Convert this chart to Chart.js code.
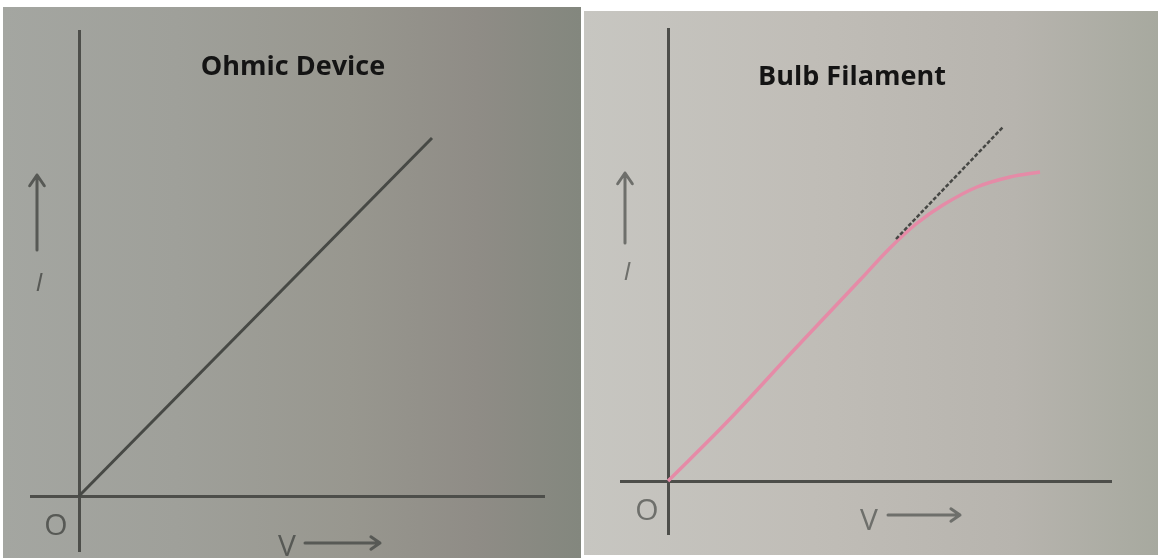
<!DOCTYPE html>
<html>
<head>
<meta charset="utf-8">
<title>I-V characteristics</title>
<script src="https://cdn.jsdelivr.net/npm/chart.js@4.4.1/dist/chart.umd.min.js"></script>
<style>
  html, body { margin: 0; padding: 0; background: #fff; }
  body { width: 1158px; height: 558px; position: relative; overflow: hidden; }
  .panel { position: absolute; }
  .panel canvas { display: block; }
  #ohmicPanel {
    left: 3px; top: 7px; width: 578px; height: 551px;
    background: linear-gradient(90deg, #a4a6a1 0%, #9fa09a 30%, #98978f 60%, #8f8c86 82%, #83877e 100%);
  }
  #bulbPanel {
    left: 584px; top: 11px; width: 574px; height: 544px;
    background: linear-gradient(90deg, #c7c6c1 0%, #c0bdb7 40%, #b7b4ae 75%, #a7a99f 100%);
  }
</style>
</head>
<body>
<div class="panel" id="ohmicPanel"><canvas id="ohmicChart" width="578" height="551"></canvas></div>
<div class="panel" id="bulbPanel"><canvas id="bulbChart" width="574" height="544"></canvas></div>

<script>
// Ohmic conductor: straight line through the origin
const ohmicV = [0, 3.53];
const ohmicI = [0, 3.58];

// Filament lamp: curve bends over at higher voltage
const bulbV = [0, 0.59, 1.25, 1.92, 2.22, 2.48, 2.75, 3.09, 3.42, 3.72];
const bulbI = [0, 0.59, 1.30, 2.01, 2.33, 2.57, 2.76, 2.94, 3.04, 3.09];

// dashed continuation of the straight (ohmic) part
const tangentV = [2.28, 3.35];
const tangentI = [2.42, 3.54];

const toPoints = (xs, ys) => xs.map((v, i) => ({ x: v, y: ys[i] }));

// only the zero line of each axis is drawn, crossing at the origin
const zeroOnly = axis => { axis.ticks = [{ value: 0 }]; };

function axisOptions(min, max) {
    return {
        type: 'linear',
        min: min,
        max: max,
        afterBuildTicks: zeroOnly,
        ticks: { display: false },
        border: { display: false },
        grid: { color: '#4d4e4a', lineWidth: 3, drawTicks: false }
    };
}

function drawArrow(ctx, x1, y1, x2, y2, head) {
    const a = Math.atan2(y2 - y1, x2 - x1);
    ctx.beginPath();
    ctx.moveTo(x1, y1);
    ctx.lineTo(x2, y2);
    ctx.moveTo(x2 - head * Math.cos(a - 0.6), y2 - head * Math.sin(a - 0.6));
    ctx.lineTo(x2, y2);
    ctx.lineTo(x2 - head * Math.cos(a + 0.6), y2 - head * Math.sin(a + 0.6));
    ctx.stroke();
}

// title, O, V and I markers, placed relative to the origin pixel
const sketchLabels = {
    id: 'sketchLabels',
    afterDraw(chart, args, o) {
        const { ctx, scales: { x, y } } = chart;
        const ox = x.getPixelForValue(0);
        const oy = y.getPixelForValue(0);
        ctx.save();

        ctx.fillStyle = '#141414';
        ctx.font = 'bold 27px "Open Sans"';
        ctx.textAlign = 'center';
        ctx.textBaseline = 'alphabetic';
        ctx.fillText(o.title, ox + o.titleAt[0], oy + o.titleAt[1]);

        ctx.fillStyle = o.ink;
        ctx.font = '30px "Open Sans"';
        ctx.textBaseline = 'middle';
        ctx.fillText('O', ox + o.originAt[0], oy + o.originAt[1]);

        ctx.textAlign = 'left';
        ctx.textBaseline = 'alphabetic';
        ctx.fillText('V', ox + o.vAt[0], oy + o.vAt[1]);

        ctx.font = 'italic 26px "Open Sans"';
        ctx.textAlign = 'center';
        ctx.textBaseline = 'middle';
        ctx.fillText('I', ox + o.iAt[0], oy + o.iAt[1]);

        ctx.strokeStyle = o.ink;
        ctx.lineWidth = 3;
        ctx.lineCap = 'round';
        ctx.lineJoin = 'round';
        const va = o.vArrow, ia = o.iArrow;
        drawArrow(ctx, ox + va[0], oy + va[2], ox + va[1], oy + va[2], 11);
        drawArrow(ctx, ox + ia[0], oy + ia[1], ox + ia[0], oy + ia[2], 13);

        ctx.restore();
    }
};

function baseOptions(padding, xRange, yRange, labels) {
    return {
        responsive: false,
        animation: false,
        layout: { padding: padding },
        elements: { point: { radius: 0 } },
        plugins: {
            legend: { display: false },
            tooltip: { enabled: false },
            sketchLabels: labels
        },
        scales: {
            x: axisOptions(xRange[0], xRange[1]),
            y: axisOptions(yRange[0], yRange[1])
        }
    };
}

new Chart(document.getElementById('ohmicChart'), {
    type: 'line',
    data: {
        datasets: [{
            data: toPoints(ohmicV, ohmicI),
            borderColor: '#474945',
            borderWidth: 3,
            tension: 0
        }]
    },
    options: baseOptions(
        { left: 27, right: 36, top: 23, bottom: 6 },
        [-0.49, 4.66], [-0.56, 4.66],
        {
            title: 'Ohmic Device',
            titleAt: [214, -421],
            ink: '#575955',
            originAt: [-23, 30],
            vAt: [199, 60],
            vArrow: [226, 301, 47],
            iAt: [-40, -212],
            iArrow: [-42, -246, -321]
        }
    ),
    plugins: [sketchLabels]
});

new Chart(document.getElementById('bulbChart'), {
    type: 'line',
    data: {
        datasets: [{
            data: toPoints(tangentV, tangentI),
            borderColor: '#464744',
            borderWidth: 2.5,
            borderDash: [4, 2],
            tension: 0
        }, {
            data: toPoints(bulbV, bulbI),
            borderColor: '#e58ba7',
            borderWidth: 3.5,
            tension: 0.35
        }]
    },
    options: baseOptions(
        { left: 36, right: 46, top: 17, bottom: 20 },
        [-0.48, 4.44], [-0.54, 4.53],
        {
            title: 'Bulb Filament',
            titleAt: [184, -396],
            ink: '#6e6f6b',
            originAt: [-21, 30],
            vAt: [192, 49],
            vArrow: [220, 292, 34],
            iAt: [-41, -208],
            iArrow: [-43, -238, -308]
        }
    ),
    plugins: [sketchLabels]
});
</script>
</body>
</html>
